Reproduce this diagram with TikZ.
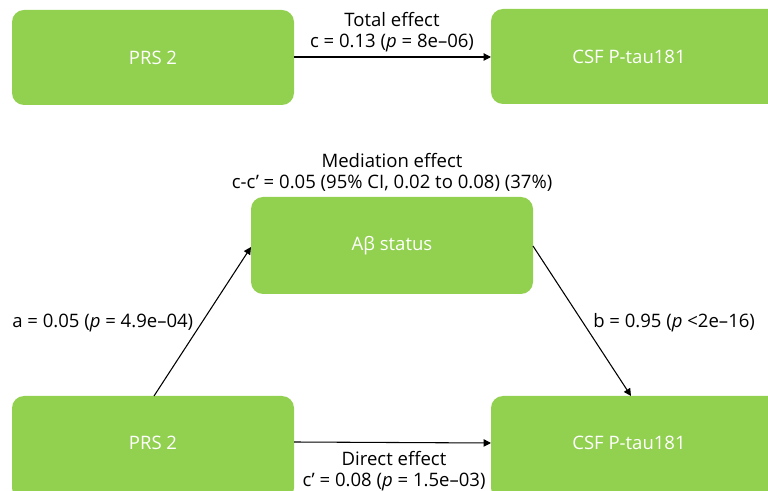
\documentclass[tikz,border=0pt]{standalone}
\usepackage{fontspec}
\setmainfont{Open Sans}
\usetikzlibrary{arrows.meta}
\definecolor{boxgreen}{HTML}{92D050}
\tikzset{
  gbox/.style={fill=boxgreen, draw=none, rounded corners=9pt},
  lbl/.style={font=\fontsize{13.9}{16}\selectfont, text=black, inner sep=0pt},
  conn/.style={draw=black, line width=0.8pt, -{Triangle[length=5.5pt,width=5.5pt]}}
}
\begin{document}
\begin{tikzpicture}[x=0.75pt,y=-0.75pt]
\useasboundingbox (0,0) rectangle (768,491);
% boxes
\path[gbox] (12,10) rectangle (294,105);
\node[lbl,text=white] (prsA) at (153,57.5) {PRS 2};
\path[gbox] (491,9) rectangle (780,104);
\node[lbl,text=white] (csfA) at (629,56.5) {CSF P-tau181};
\path[gbox] (251,197) rectangle (533,294);
\node[lbl,text=white] (ab) at (392,245.5) {Aβ status};
\path[gbox] (12,396) rectangle (294,500);
\node[lbl,text=white] (prsB) at (153,443) {PRS 2};
\path[gbox] (491,396) rectangle (780,500);
\node[lbl,text=white] (csfB) at (629,443) {CSF P-tau181};
% connector anchor coordinates
\coordinate (tA1) at (294,57);
\coordinate (tA2) at (491,57);
\coordinate (aS) at (154,396);
\coordinate (aE) at (251,247);
\coordinate (bS) at (533,246);
\coordinate (bE) at (631,396);
\coordinate (dS) at (294,442);
\coordinate (dE) at (491,443);
\draw[conn] (tA1) -- (tA2);
\draw[conn] (aS) -- (aE);
\draw[conn] (bS) -- (bE);
\draw[conn] (dS) -- (dE);
% labels
\node[lbl] (t1) at (392,20) {Total effect};
\node[lbl] (t2) at (392,43) {c = 0.13 (\textit{p} = 8e–06)};
\node[lbl] (m1) at (392,160.5) {Mediation effect};
\node[lbl] (m2) at (392,183) {c-c’ = 0.05 (95\% CI, 0.02 to 0.08) (37\%)};
\node[lbl,anchor=west] (la) at (12,323) {a = 0.05 (\textit{p} = 4.9e–04)};
\node[lbl,anchor=west] (lb) at (593,323) {b = 0.95 (\textit{p} <2e–16)};
\node[lbl] (d1) at (394,459) {Direct effect};
\node[lbl] (d2) at (394,482) {c’ = 0.08 (\textit{p} = 1.5e–03)};
\end{tikzpicture}
\end{document}
